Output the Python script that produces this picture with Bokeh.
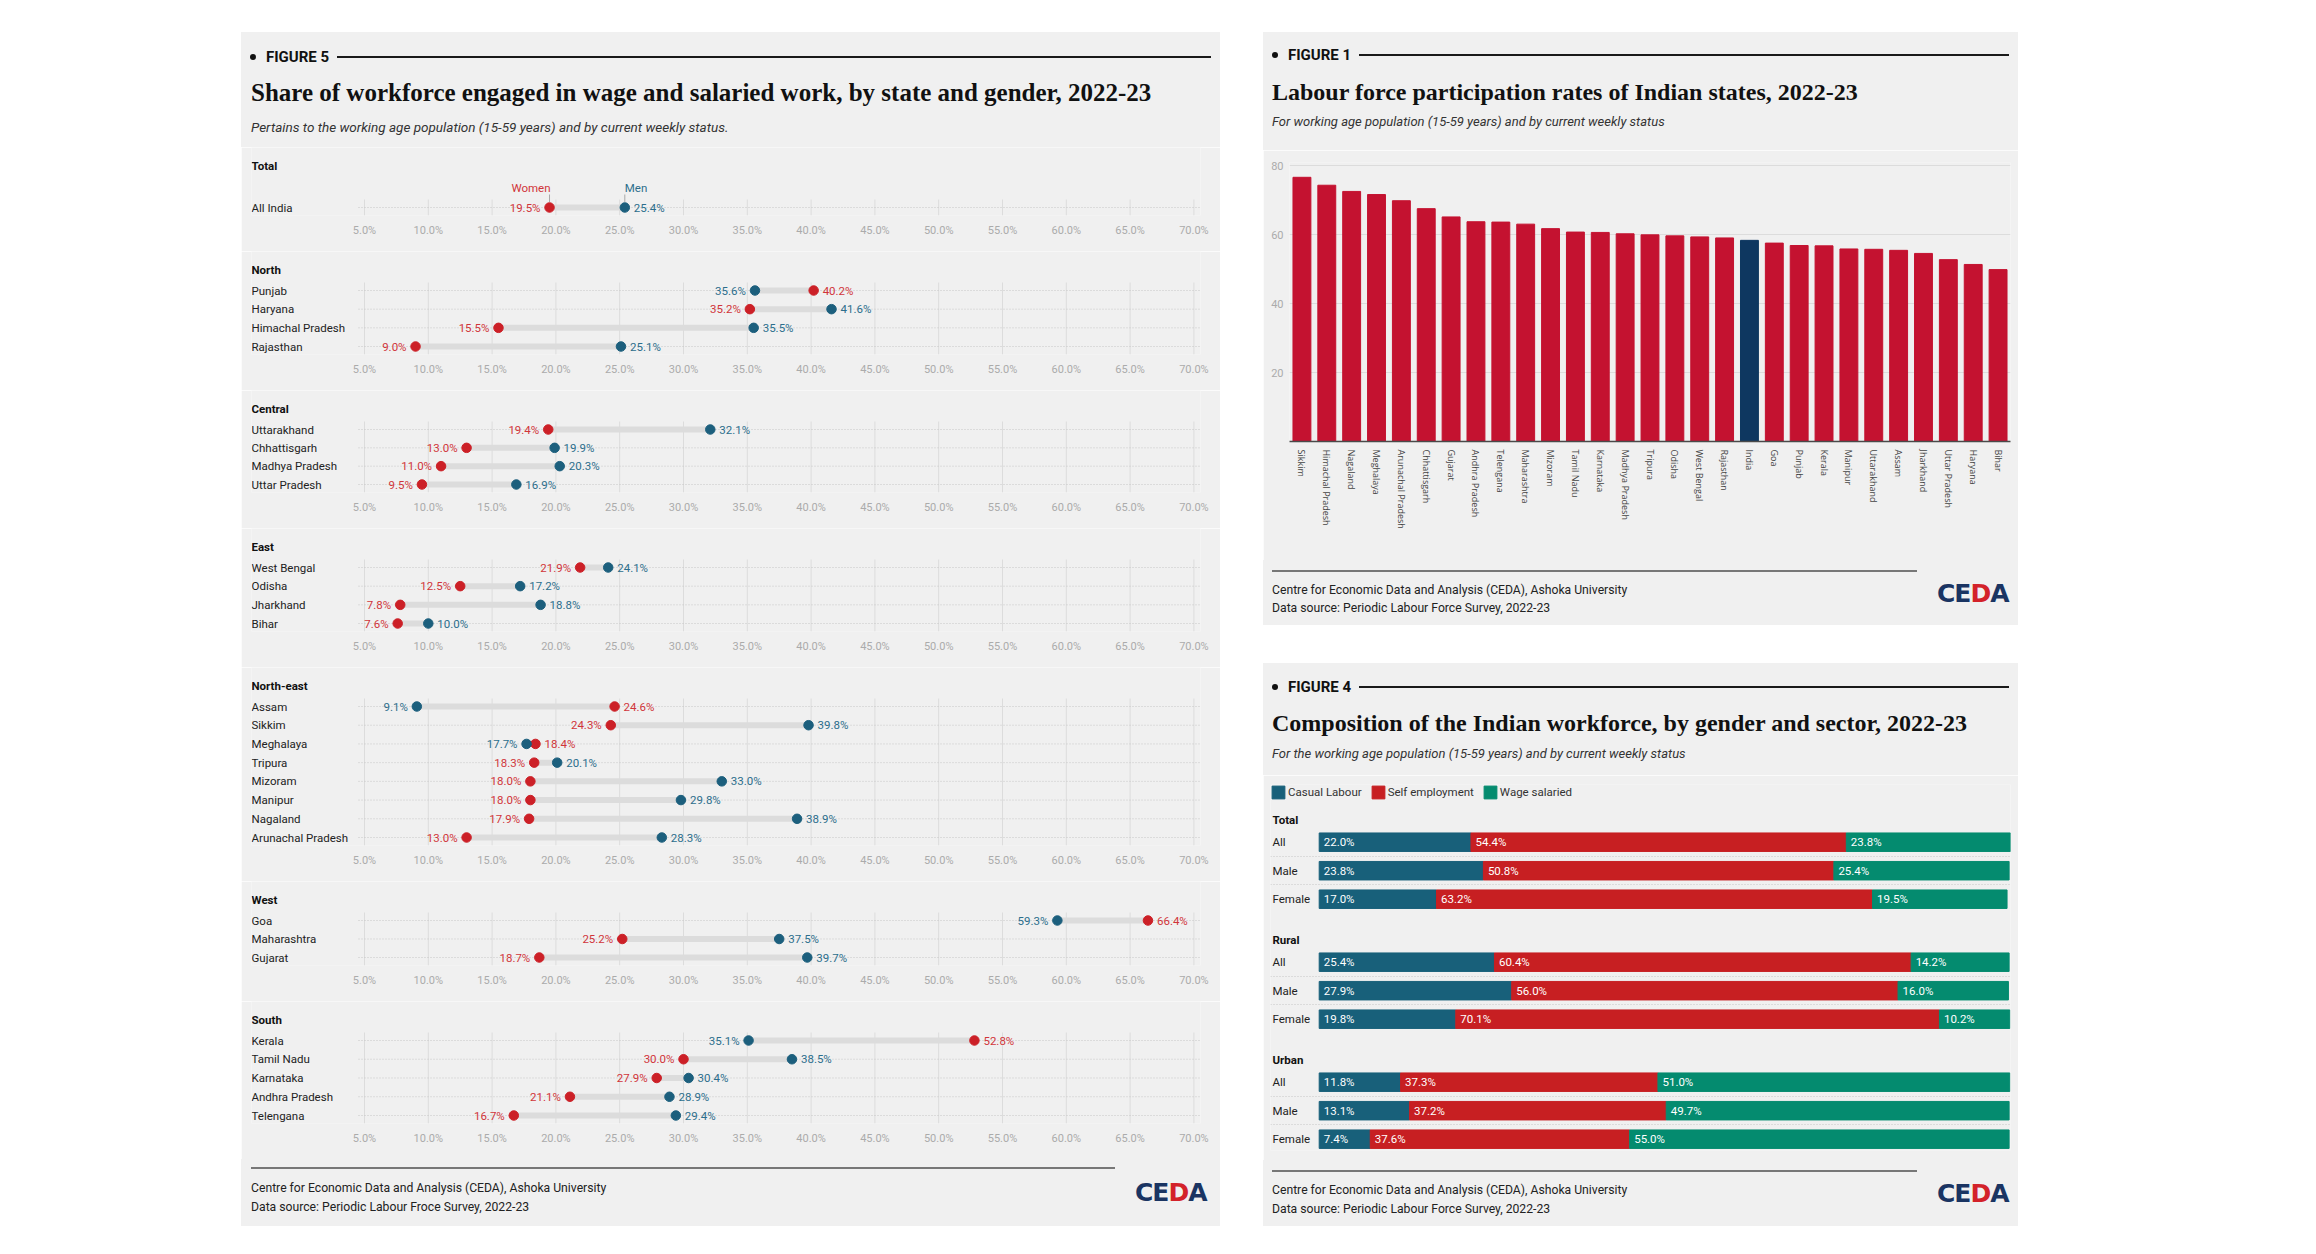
from bokeh.plotting import figure
from bokeh.models import (ColumnDataSource, Range1d, FactorRange, FixedTicker,
                          PrintfTickFormatter, LabelSet, Div, Spacer,
                          Legend, LegendItem)
from bokeh.layouts import row, column
from bokeh.core.properties import value
from bokeh.embed import file_html
from bokeh.resources import INLINE

# ------------------------------------------------------------------ data
# Figure 5: share in wage and salaried work, by state and gender (%)
total_states = ["All India"]
total_women = [19.5]
total_men = [25.4]
north_states = ["Punjab", "Haryana", "Himachal Pradesh", "Rajasthan"]
north_women = [40.2, 35.2, 15.5, 9.0]
north_men = [35.6, 41.6, 35.5, 25.1]
central_states = ["Uttarakhand", "Chhattisgarh", "Madhya Pradesh", "Uttar Pradesh"]
central_women = [19.4, 13.0, 11.0, 9.5]
central_men = [32.1, 19.9, 20.3, 16.9]
east_states = ["West Bengal", "Odisha", "Jharkhand", "Bihar"]
east_women = [21.9, 12.5, 7.8, 7.6]
east_men = [24.1, 17.2, 18.8, 10.0]
ne_states = ["Assam", "Sikkim", "Meghalaya", "Tripura", "Mizoram", "Manipur",
             "Nagaland", "Arunachal Pradesh"]
ne_women = [24.6, 24.3, 18.4, 18.3, 18.0, 18.0, 17.9, 13.0]
ne_men = [9.1, 39.8, 17.7, 20.1, 33.0, 29.8, 38.9, 28.3]
west_states = ["Goa", "Maharashtra", "Gujarat"]
west_women = [66.4, 25.2, 18.7]
west_men = [59.3, 37.5, 39.7]
south_states = ["Kerala", "Tamil Nadu", "Karnataka", "Andhra Pradesh", "Telengana"]
south_women = [52.8, 30.0, 27.9, 21.1, 16.7]
south_men = [35.1, 38.5, 30.4, 28.9, 29.4]
pct_ticks = [5, 10, 15, 20, 25, 30, 35, 40, 45, 50, 55, 60, 65, 70]

# Figure 1: labour force participation rate (%)
lfpr_states = ["Sikkim", "Himachal Pradesh", "Nagaland", "Meghalaya", "Arunachal Pradesh",
               "Chhattisgarh", "Gujarat", "Andhra Pradesh", "Telengana", "Maharashtra",
               "Mizoram", "Tamil Nadu", "Karnataka", "Madhya Pradesh", "Tripura", "Odisha",
               "West Bengal", "Rajasthan", "India", "Goa", "Punjab", "Kerala", "Manipur",
               "Uttarakhand", "Assam", "Jharkhand", "Uttar Pradesh", "Haryana", "Bihar"]
lfpr_values = [76.7, 74.4, 72.6, 71.7, 69.9, 67.6, 65.2, 63.8, 63.7, 63.1, 61.8, 60.8, 60.7,
               60.3, 60.0, 59.7, 59.4, 59.1, 58.4, 57.6, 56.9, 56.8, 55.9, 55.8, 55.5, 54.6,
               52.8, 51.4, 49.9]
lfpr_ticks = [20, 40, 60, 80]

# Figure 4: composition of workforce (%)
comp_groups = ["Total", "Rural", "Urban"]
comp_rows = ["All", "Male", "Female"]
casual_labour = [22.0, 23.8, 17.0, 25.4, 27.9, 19.8, 11.8, 13.1, 7.4]
self_employment = [54.4, 50.8, 63.2, 60.4, 56.0, 70.1, 37.3, 37.2, 37.6]
wage_salaried = [23.8, 25.4, 19.5, 14.2, 16.0, 10.2, 51.0, 49.7, 55.0]

# ------------------------------------------------------------------ style
BG = "#f0f0f0"
RED_DOT = "#cc2027"
BLUE_DOT = "#1c5f7d"
RED_TXT = "#d0353a"
BLUE_TXT = "#2c6e8c"
CRIMSON = "#c41230"
NAVY = "#0e3760"
C_CASUAL = "#18607a"
C_SELF = "#c71f22"
C_WAGE = "#048b6f"
SANS = "Roboto"


def header_div(w, h, left, label, title, subtitle, y_label, y_title, y_sub,
               title_size, sub_size):
    html = f"""<div style="position:relative;width:{w}px;height:{h}px;background:{BG};overflow:hidden;">
<div style="position:absolute;left:9px;top:{y_label - 10}px;width:{w - 18}px;height:20px;display:flex;align-items:center;">
<span style="flex:none;width:6px;height:6px;border-radius:50%;background:#111;"></span>
<span style="flex:none;margin-left:10px;font-family:Roboto;font-weight:700;font-size:15px;line-height:20px;color:#111;">{label}</span>
<span style="flex:1 1 auto;margin-left:8px;height:2px;background:#1a1a1a;"></span>
</div>
<div style="position:absolute;left:{left}px;top:{y_title - 16}px;height:32px;line-height:32px;white-space:nowrap;font-family:'Liberation Serif';font-weight:700;font-size:{title_size}px;color:#111;">{title}</div>
<div style="position:absolute;left:{left}px;top:{y_sub - 10}px;height:20px;line-height:20px;white-space:nowrap;font-family:Roboto;font-style:italic;font-size:{sub_size}px;color:#333;">{subtitle}</div>
</div>"""
    return Div(text=html, width=w, height=h, margin=0, styles={"background-color": BG})


def footer_div(w, h, left, line_w, line_y, t1_y, t2_y, logo_x, logo_y, source_text):
    html = f"""<div style="position:relative;width:{w}px;height:{h}px;background:{BG};overflow:hidden;">
<div style="position:absolute;left:{left}px;top:{line_y - 1}px;width:{line_w}px;height:1.5px;background:#777;"></div>
<div style="position:absolute;left:{left}px;top:{t1_y - 9}px;height:18px;line-height:18px;white-space:nowrap;font-family:Roboto;font-size:12.2px;color:#222;">Centre for Economic Data and Analysis (CEDA), Ashoka University</div>
<div style="position:absolute;left:{left}px;top:{t2_y - 9}px;height:18px;line-height:18px;white-space:nowrap;font-family:Roboto;font-size:12.2px;color:#222;">{source_text}</div>
<div style="position:absolute;left:{logo_x}px;top:{logo_y - 15}px;height:30px;line-height:30px;white-space:nowrap;font-family:'DejaVu Sans';font-weight:700;font-size:25px;letter-spacing:-1px;color:#1a3462;">CE<span style="color:#d3222a;">D</span>A</div>
</div>"""
    return Div(text=html, width=w, height=h, margin=0, styles={"background-color": BG})


# ------------------------------------------------------------------ figure 5
W5 = 979
F5_LEFT, F5_RIGHT, F5_BOTTOM = 10, 20, 36
PX5 = 63.8 / 5.0
X5_START = pct_ticks[0] - (364 - 251) / PX5       # frame starts at the row-label column
X5_END = X5_START + (W5 - F5_LEFT - F5_RIGHT) / PX5
X5_LINE0 = pct_ticks[0] - 6 / PX5                 # where the dotted row lines begin


def dumbbell(name, states, women, men, height, total=False):
    n = len(states)
    first = 60 if total else 39          # px from top of figure to first row
    rpx = (height - F5_BOTTOM - first - 8) / (n - 1) if n > 1 else 18.8
    y_top = -first / rpx
    y_bot = (n - 1) + 8 / rpx
    p = figure(width=W5, height=height,
               x_range=Range1d(X5_START, X5_END), y_range=Range1d(y_bot, y_top),
               output_backend="svg", toolbar_location=None,
               min_border_left=F5_LEFT, min_border_right=F5_RIGHT,
               min_border_top=0, min_border_bottom=F5_BOTTOM,
               background_fill_color=BG, border_fill_color=BG, outline_line_color=None)
    rows_idx = list(range(n))
    p.yaxis.visible = False
    p.xgrid.visible = False
    p.ygrid.visible = False
    p.xaxis.ticker = FixedTicker(ticks=pct_ticks)
    p.xaxis.formatter = PrintfTickFormatter(format="%.1f%%")
    p.xaxis.axis_line_color = None
    p.xaxis.major_tick_line_color = None
    p.xaxis.minor_tick_line_color = None
    p.xaxis.major_tick_out = 0
    p.xaxis.major_tick_in = 0
    p.xaxis.major_label_standoff = 8
    p.xaxis.major_label_text_font = SANS
    p.xaxis.major_label_text_font_size = "11px"
    p.xaxis.major_label_text_color = "#ababab"

    # grid: vertical lines at the ticks, dotted line along each row
    gsrc = ColumnDataSource(dict(x=pct_ticks, y0=[-8 / rpx] * len(pct_ticks),
                                 y1=[y_bot] * len(pct_ticks)))
    p.segment(x0="x", x1="x", y0="y0", y1="y1", source=gsrc,
              line_color="#dcdcdc", line_width=1)
    rsrc = ColumnDataSource(dict(y=rows_idx, x0=[X5_LINE0] * n, x1=[X5_END] * n))
    p.segment(x0="x0", x1="x1", y0="y", y1="y", source=rsrc,
              line_color="#c6c6c6", line_width=1, line_dash="1 2")

    src = ColumnDataSource(dict(y=rows_idx, name=states, w=women, m=men,
                                lx=[X5_START] * n))
    p.segment(x0="w", y0="y", x1="m", y1="y", source=src,
              line_width=6, line_color="#dcdcdc")
    p.scatter(x="w", y="y", source=src, size=9.5, fill_color=RED_DOT, line_color=RED_DOT)
    p.scatter(x="m", y="y", source=src, size=9.5, fill_color=BLUE_DOT, line_color=BLUE_DOT)

    lo_x, lo_t, lo_c, hi_x, hi_t, hi_c = [], [], [], [], [], []
    for wv, mv in zip(women, men):
        if wv <= mv:
            lo_x.append(wv); lo_t.append(f"{wv:.1f}%"); lo_c.append(RED_TXT)
            hi_x.append(mv); hi_t.append(f"{mv:.1f}%"); hi_c.append(BLUE_TXT)
        else:
            lo_x.append(mv); lo_t.append(f"{mv:.1f}%"); lo_c.append(BLUE_TXT)
            hi_x.append(wv); hi_t.append(f"{wv:.1f}%"); hi_c.append(RED_TXT)
    lo_src = ColumnDataSource(dict(x=lo_x, y=rows_idx, t=lo_t, c=lo_c))
    hi_src = ColumnDataSource(dict(x=hi_x, y=rows_idx, t=hi_t, c=hi_c))
    p.add_layout(LabelSet(x="x", y="y", text="t", source=lo_src, text_color="c",
                          text_align="right", text_baseline="middle", x_offset=-9,
                          text_font=value(SANS), text_font_size=value("11.5px")))
    p.add_layout(LabelSet(x="x", y="y", text="t", source=hi_src, text_color="c",
                          text_align="left", text_baseline="middle", x_offset=9,
                          text_font=value(SANS), text_font_size=value("11.5px")))
    # state names
    p.text(x="lx", y="y", text="name", source=src, text_color="#222222",
           text_align="left", text_baseline="middle",
           text_font=value(SANS), text_font_size=value("11.5px"))
    # group heading
    hdr_off = 42 if total else 21
    hsrc = ColumnDataSource(dict(x=[X5_START], y=[-hdr_off / rpx], t=[name]))
    p.text(x="x", y="y", text="t", source=hsrc, text_color="#111111",
           text_align="left", text_baseline="middle", text_font_style="bold",
           text_font=value(SANS), text_font_size=value("11.5px"))
    if total:
        wm = ColumnDataSource(dict(x=[women[0], men[0]],
                                   y0=[-13 / rpx] * 2, y1=[-5.5 / rpx] * 2))
        p.segment(x0="x", x1="x", y0="y0", y1="y1", source=wm,
                  line_color="#a8a8a8", line_width=1)
        p.text(x=[women[0]], y=[-20 / rpx], text=["Women"], text_color=RED_TXT,
               text_align="right", text_baseline="middle", x_offset=1,
               text_font=value(SANS), text_font_size=value("11.5px"))
        p.text(x=[men[0]], y=[-20 / rpx], text=["Men"], text_color=BLUE_TXT,
               text_align="left", text_baseline="middle",
               text_font=value(SANS), text_font_size=value("11.5px"))
    return p


hdr5 = header_div(W5, 115, 10, "FIGURE 5",
                  "Share of workforce engaged in wage and salaried work, by state and gender, 2022-23",
                  "Pertains to the working age population (15-59 years) and by current weekly status.",
                  25, 61, 95, 25, 13.5)
g_total = dumbbell("Total", total_states, total_women, total_men, 104, total=True)
g_north = dumbbell("North", north_states, north_women, north_men, 139)
g_central = dumbbell("Central", central_states, central_women, central_men, 138)
g_east = dumbbell("East", east_states, east_women, east_men, 139)
g_ne = dumbbell("North-east", ne_states, ne_women, ne_men, 214)
g_west = dumbbell("West", west_states, west_women, west_men, 120)
g_south = dumbbell("South", south_states, south_women, south_men, 158)
ftr5 = footer_div(W5, 67, 10, 864, 9, 29, 48, 894, 34,
                  "Data source: Periodic Labour Froce Survey, 2022-23")
col5 = column(hdr5, g_total, g_north, g_central, g_east, g_ne, g_west, g_south, ftr5,
              spacing=0)

# ------------------------------------------------------------------ figure 1
W1 = 755
hdr1 = header_div(W1, 118, 9, "FIGURE 1",
                  "Labour force participation rates of Indian states, 2022-23",
                  "For working age population (15-59 years) and by current weekly status",
                  23, 60, 90, 24, 13)
p1 = figure(width=W1, height=410, x_range=FactorRange(factors=lfpr_states),
            y_range=Range1d(0, 81), output_backend="svg", toolbar_location=None,
            min_border_left=26, min_border_right=8, min_border_top=12, min_border_bottom=119,
            background_fill_color=BG, border_fill_color=BG, outline_line_color=None)
bar_colors = [NAVY if s == "India" else CRIMSON for s in lfpr_states]
src1 = ColumnDataSource(dict(state=lfpr_states, val=lfpr_values, color=bar_colors))
p1.vbar(x="state", top="val", width=0.72, source=src1, fill_color="color", line_color="color")
p1.xgrid.visible = False
p1.ygrid.ticker = FixedTicker(ticks=lfpr_ticks)
p1.ygrid.grid_line_color = "#dcdcdc"
p1.yaxis.ticker = FixedTicker(ticks=lfpr_ticks)
p1.yaxis.axis_line_color = None
p1.yaxis.major_tick_line_color = None
p1.yaxis.minor_tick_line_color = None
p1.yaxis.major_tick_out = 0
p1.yaxis.major_tick_in = 0
p1.yaxis.major_label_standoff = 6
p1.yaxis.major_label_text_font = SANS
p1.yaxis.major_label_text_font_size = "11px"
p1.yaxis.major_label_text_color = "#ababab"
p1.xaxis.axis_line_color = "#4a4a4a"
p1.xaxis.axis_line_width = 1.5
p1.xaxis.major_tick_line_color = None
p1.xaxis.major_tick_out = 0
p1.xaxis.major_tick_in = 0
p1.xaxis.major_label_standoff = 8
p1.xaxis.major_label_orientation = "vertical"
p1.xaxis.major_label_text_font = "Open Sans"
p1.xaxis.major_label_text_font_size = "9px"
p1.xaxis.major_label_text_color = "#444444"
ftr1 = footer_div(W1, 65, 9, 645, 11, 30, 48, 674, 34,
                  "Data source: Periodic Labour Force Survey, 2022-23")
col1 = column(hdr1, p1, ftr1, spacing=0)

# ------------------------------------------------------------------ figure 4
W4 = 755
ROW4 = 28.5
G4 = 120 / ROW4
PX4 = (2010 - 1318.7) / 100.2
X4_START = -(1318.7 - 1270) / PX4
hdr4 = header_div(W4, 112, 9, "FIGURE 4",
                  "Composition of the Indian workforce, by gender and sector, 2022-23",
                  "For the working age population (15-59 years) and by current weekly status",
                  24, 60, 91, 24, 13)
p4 = figure(width=W4, height=385, x_range=Range1d(X4_START, 100.2),
            y_range=Range1d(10.818, -2.025), output_backend="svg", toolbar_location=None,
            x_axis_location=None, y_axis_location=None,
            min_border_left=7, min_border_right=8, min_border_top=9, min_border_bottom=10,
            background_fill_color=BG, border_fill_color=BG, outline_line_color=None)
ys4 = [gi * G4 + ri for gi in range(len(comp_groups)) for ri in range(len(comp_rows))]
self_right = [a + b for a, b in zip(casual_labour, self_employment)]
wage_right = [a + b for a, b in zip(self_right, wage_salaried)]
src4 = ColumnDataSource(dict(y=ys4, c0=[0.0] * len(ys4), c1=casual_labour,
                             s1=self_right, w1=wage_right))
bh = 18.5 / ROW4
r_cas = p4.hbar(y="y", left="c0", right="c1", height=bh, source=src4,
                fill_color=C_CASUAL, line_color=C_CASUAL)
r_self = p4.hbar(y="y", left="c1", right="s1", height=bh, source=src4,
                 fill_color=C_SELF, line_color=C_SELF)
r_wage = p4.hbar(y="y", left="s1", right="w1", height=bh, source=src4,
                 fill_color=C_WAGE, line_color=C_WAGE)
seps = [gi * G4 + 0.5 for gi in range(3)] + [gi * G4 + 1.5 for gi in range(3)]
p4.xgrid.visible = False
p4.ygrid.ticker = FixedTicker(ticks=sorted(seps))
p4.ygrid.grid_line_color = "#c6c6c6"
p4.ygrid.grid_line_dash = "1 2"

lab_src = ColumnDataSource(dict(
    x=[0.0] * len(ys4) + casual_labour + self_right,
    y=ys4 * 3,
    t=[f"{v:.1f}%" for v in casual_labour + self_employment + wage_salaried]))
p4.text(x="x", y="y", text="t", source=lab_src, x_offset=4.5, text_align="left",
        text_baseline="middle", text_color="white", text_font=value(SANS),
        text_font_size=value("11.5px"))
rowlab_src = ColumnDataSource(dict(x=[X4_START] * len(ys4), y=ys4, t=comp_rows * 3))
p4.text(x="x", y="y", text="t", source=rowlab_src, x_offset=2, text_align="left",
        text_baseline="middle", text_color="#222222", text_font=value(SANS),
        text_font_size=value("11.5px"))
hdr_src = ColumnDataSource(dict(x=[X4_START] * 3, y=[gi * G4 - 22.4 / ROW4 for gi in range(3)],
                                t=comp_groups))
p4.text(x="x", y="y", text="t", source=hdr_src, x_offset=2, text_align="left",
        text_baseline="middle", text_color="#111111", text_font=value(SANS),
        text_font_style="bold", text_font_size=value("11.5px"))
legend4 = Legend(items=[LegendItem(label="Casual Labour", renderers=[r_cas]),
                        LegendItem(label="Self employment", renderers=[r_self]),
                        LegendItem(label="Wage salaried", renderers=[r_wage])],
                 location="top_left", orientation="horizontal", margin=0, padding=0,
                 spacing=8, glyph_width=16, glyph_height=16, label_standoff=2,
                 label_height=16, label_text_font=SANS, label_text_font_size="11.5px",
                 label_text_color="#333333", background_fill_alpha=0, border_line_alpha=0)
p4.add_layout(legend4)
ftr4 = footer_div(W4, 66, 9, 645, 11, 30, 49, 674, 34,
                  "Data source: Periodic Labour Force Survey, 2022-23")
col4 = column(hdr4, p4, ftr4, spacing=0)

# ------------------------------------------------------------------ page
right = column(col1, Spacer(width=W1, height=38), col4, spacing=0)
main = row(Spacer(width=241, height=10), col5, Spacer(width=43, height=10), right, spacing=0)
page = column(Spacer(width=10, height=32), main, spacing=0)

open("out.html", "w").write(file_html(page, INLINE))
